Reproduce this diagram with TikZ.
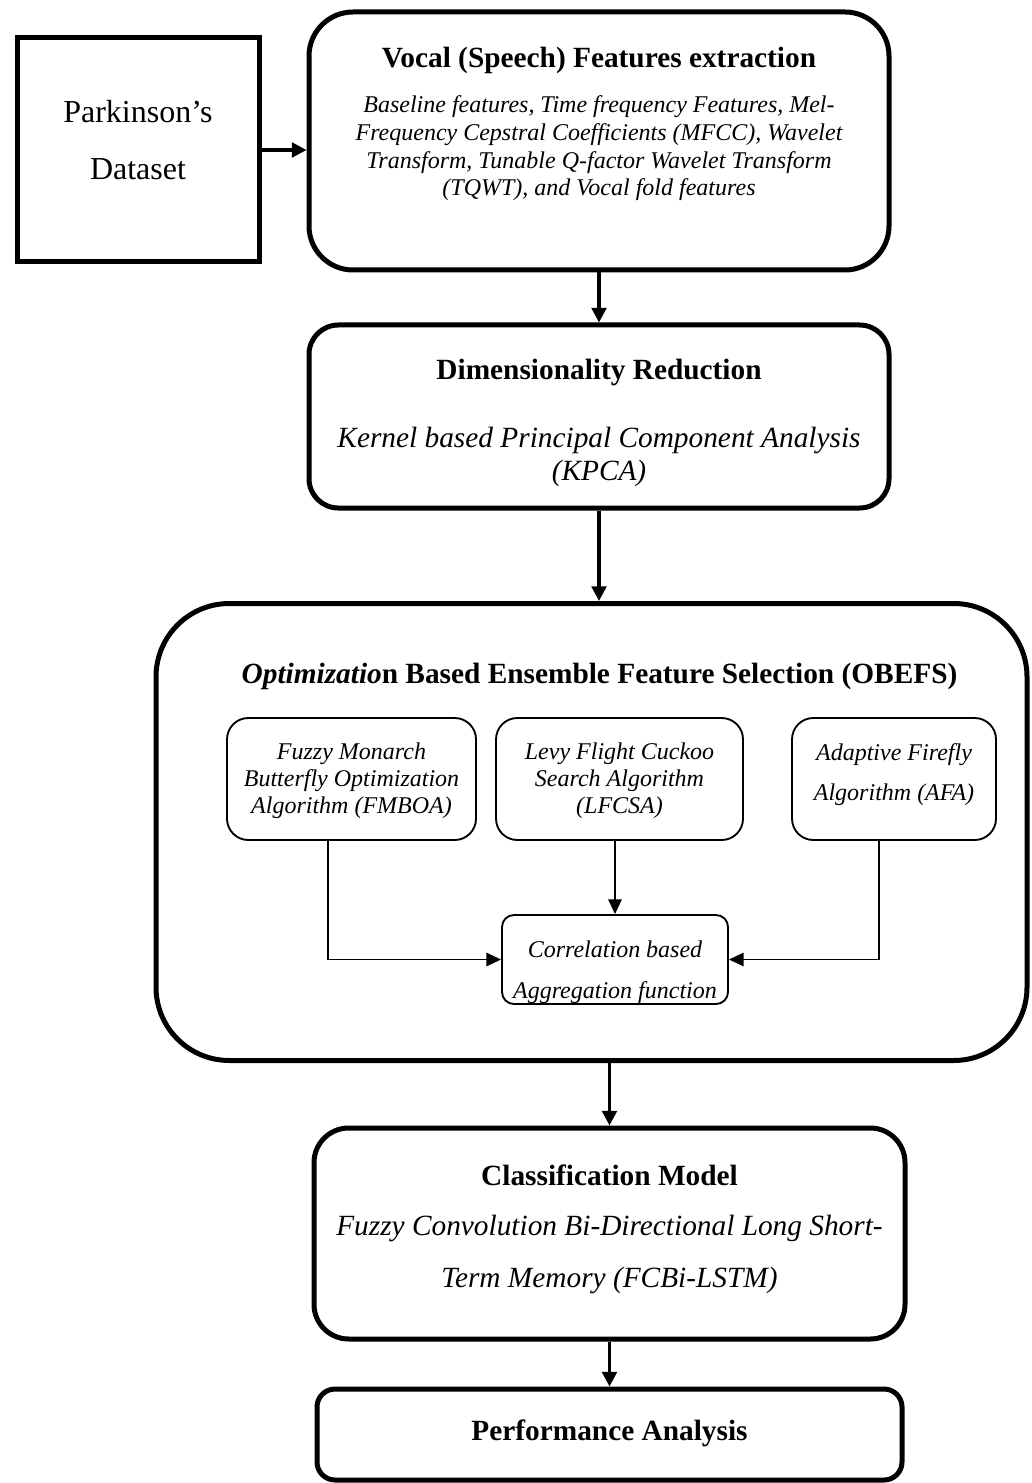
\documentclass[tikz,border=0pt]{standalone}
\usepackage{fontspec}
\setmainfont{Liberation Serif}
\usetikzlibrary{arrows.meta}
\begin{document}
\begin{tikzpicture}[x=0.75pt,y=-0.75pt,
  mainbox/.style={draw, line width=3.75pt, rounded corners=#1, inner sep=0pt},
  mainbox/.default=30pt,
  subbox/.style={draw, line width=1.4pt, rounded corners=#1, inner sep=0pt},
  subbox/.default=16pt,
  ttl/.style={anchor=base, inner sep=0pt, align=center, font=\fontsize{22}{26}\selectfont\bfseries},
  itl/.style={anchor=base, inner sep=0pt, align=center, font=\fontsize{18}{20.8}\selectfont\itshape},
  bigitl/.style={anchor=base, inner sep=0pt, align=center, font=\fontsize{22}{24.75}\selectfont\itshape},
  mainarrow/.style={line width=2.5pt, -{Triangle[length=11pt,width=11pt]}},
  subarrow/.style={line width=1.4pt, -{Triangle[length=11pt,width=10pt]}}
]
\useasboundingbox (0,0) rectangle (1031,1483);
\fill[white] (0,0) rectangle (1031,1483);

% boxes
\node[draw, line width=3.75pt, minimum width=181.5pt, minimum height=168pt, inner sep=0pt] (park) at (138,150) {};
\node[mainbox=33pt, minimum width=435pt, minimum height=193.5pt] (vocal) at (599,141) {};
\node[mainbox=22pt, minimum width=435pt, minimum height=137.25pt] (dim) at (599,416.5) {};
\node[mainbox=55pt, minimum width=653.25pt, minimum height=342.75pt] (obefs) at (591.5,832) {};
\node[subbox, minimum width=186.75pt, minimum height=91.5pt] (fm) at (351.5,779) {};
\node[subbox, minimum width=185.25pt, minimum height=91.5pt] (lf) at (619.5,779) {};
\node[subbox, minimum width=153pt, minimum height=91.5pt] (afa) at (894,779) {};
\node[subbox=9pt, minimum width=169.5pt, minimum height=66.75pt] (corr) at (615,959.5) {};
\node[mainbox=26pt, minimum width=443.25pt, minimum height=158.25pt] (cls) at (609.5,1233.5) {};
\node[mainbox=13.5pt, minimum width=438.75pt, minimum height=68.25pt] (perf) at (609.5,1434.5) {};

% texts (base anchor = baseline of the last line)
\node[anchor=base, inner sep=0pt, align=center, font=\fontsize{24}{42.75}\selectfont] (parkt) at (138,180) {Parkinson’s\\Dataset};
\node[ttl] (vocalt) at (599,68) {Vocal (Speech) Features extraction};
\node[itl] (vocald) at (599,196) {Baseline features, Time frequency Features, Mel-\\Frequency Cepstral Coefficients (MFCC), Wavelet\\Transform, Tunable Q-factor Wavelet Transform\\(TQWT), and Vocal fold features};
\node[ttl] (dimt) at (599,380) {Dimensionality Reduction};
\node[bigitl] (dimd) at (599,480) {Kernel based Principal Component Analysis\\(KPCA)};
\node[ttl] (obefst) at (599.5,683) {\textit{Optimizatio}n Based Ensemble Feature Selection (OBEFS)};
\node[itl, font=\fontsize{18}{20}\selectfont\itshape] (fmt) at (351.5,813) {Fuzzy Monarch\\Butterfly Optimization\\Algorithm (FMBOA)};
\node[itl, font=\fontsize{18}{20}\selectfont\itshape] (lft) at (619.5,813) {Levy Flight Cuckoo\\Search Algorithm\\(LFCSA)};
\node[itl, font=\fontsize{18}{30}\selectfont\itshape] (afat) at (894,800) {Adaptive Firefly\\Algorithm (AFA)};
\begin{scope}
  \clip (503,916) rectangle (727,1002.5);
  \node[itl, font=\fontsize{18}{30.75}\selectfont\itshape] (corrt) at (615,998) {Correlation based\\Aggregation function};
\end{scope}
\node[ttl] (clst) at (609.5,1185) {Classification Model};
\node[bigitl, font=\fontsize{22}{39}\selectfont\itshape] (clsd) at (609.5,1287) {Fuzzy Convolution Bi-Directional Long Short-\\Term Memory (FCBi-LSTM)};
\node[ttl] (perft) at (609.5,1440) {Performance Analysis};

% connectors
\draw[mainarrow] (park.east) -- (park.east -| vocal.west);
\draw[mainarrow] (vocal.south) -- (dim.north);
\draw[mainarrow] (dim.south) -- (dim.south |- obefs.north);
\draw[mainarrow] (cls.north |- obefs.south) -- (cls.north);
\draw[mainarrow] (cls.south) -- (perf.north);

\coordinate (fmout) at (328,840);
\coordinate (afaout) at (879,840);
\draw[subarrow] (fmout) |- (corr.west);
\draw[subarrow] (afaout) |- (corr.east);
\draw[subarrow] (corr.north |- lf.south) -- (corr.north);
\end{tikzpicture}
\end{document}
